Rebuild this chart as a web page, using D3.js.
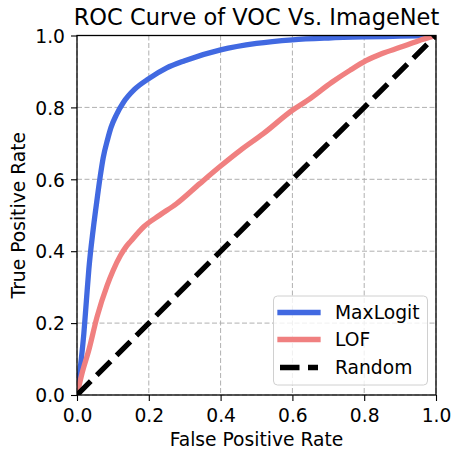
<!DOCTYPE html>
<html>
<head>
<meta charset="utf-8">
<script src="https://cdn.jsdelivr.net/npm/d3@7"></script>
<style>
  body { margin: 0; background: #fff; }
  text { font-family: "DejaVu Sans", sans-serif; }
</style>
</head>
<body>
<svg width="451" height="449"></svg>
<script>
// ROC points: [fpr, tpr]
const maxLogit = [[0,0],[0.006,0.05],[0.012,0.1],[0.019,0.17],[0.026,0.26],[0.033,0.35],[0.045,0.46],
  [0.056,0.545],[0.065,0.61],[0.073,0.66],[0.085,0.71],[0.095,0.745],[0.11,0.78],[0.13,0.815],[0.16,0.85],
  [0.2,0.88],[0.25,0.91],[0.3,0.93],[0.4,0.96],[0.5,0.978],[0.6,0.988],[0.7,0.993],[0.8,0.996],[0.9,0.998],[1,1]];
const lof = [[0,0],[0.014,0.06],[0.033,0.125],[0.056,0.218],[0.084,0.305],[0.1,0.345],[0.121,0.388],
  [0.135,0.41],[0.15,0.428],[0.186,0.468],[0.23,0.5],[0.277,0.532],[0.342,0.588],[0.4,0.637],[0.454,0.68],
  [0.519,0.727],[0.6,0.792],[0.64,0.818],[0.71,0.87],[0.76,0.903],[0.805,0.93],[0.85,0.95],[0.9,0.967],
  [0.95,0.985],[1,1]];
const random = [[0,0],[1,1]];
const ticks = [0, 0.2, 0.4, 0.6, 0.8, 1.0];
const seriesNames = ["MaxLogit", "LOF", "Random"];
const colors = ["#4169e1", "#f08080", "#000000"];

var svg = d3.select("svg");
const pLeft = 77, pRight = 436, pTop = 35.5, pBottom = 395;

const x = d3.scaleLinear().domain([0, 1]).range([pLeft, pRight]);
const y = d3.scaleLinear().domain([0, 1]).range([pBottom, pTop]);

svg.append("defs").append("clipPath").attr("id", "clip")
	.append("rect")
	.attr("x", pLeft).attr("y", pTop)
	.attr("width", pRight - pLeft).attr("height", pBottom - pTop);

// grid
const grid = svg.append("g")
	.attr("stroke", "#b0b0b0")
	.attr("stroke-width", 1)
	.attr("stroke-dasharray", "5,2.5");
grid.selectAll(".gx").data(ticks).join("line")
	.attr("x1", d => x(d)).attr("x2", d => x(d))
	.attr("y1", pTop).attr("y2", pBottom);
grid.selectAll(".gy").data(ticks).join("line")
	.attr("y1", d => y(d)).attr("y2", d => y(d))
	.attr("x1", pLeft).attr("x2", pRight);

// curves
const line = d3.line().curve(d3.curveMonotoneX).x(d => x(d[0])).y(d => y(d[1]));
const curves = svg.append("g").attr("clip-path", "url(#clip)").attr("fill", "none");
[maxLogit, lof, random].forEach((data, i) => {
	curves.append("path")
		.datum(data)
		.attr("d", line)
		.attr("stroke", colors[i])
		.attr("stroke-width", 5.3)
		.attr("stroke-linejoin", "round")
		.attr("stroke-dasharray", i == 2 ? "19.5,8.5" : null);
});

// axes
const xAxis = svg.append("g")
	.attr("transform", `translate(0,${pBottom})`)
	.call(d3.axisBottom(x).tickValues(ticks).tickFormat(d3.format(".1f")).tickSize(6).tickPadding(6));
const yAxis = svg.append("g")
	.attr("transform", `translate(${pLeft},0)`)
	.call(d3.axisLeft(y).tickValues(ticks).tickFormat(d3.format(".1f")).tickSize(6).tickPadding(6));
[xAxis, yAxis].forEach(a => {
	a.select(".domain").remove();
	a.selectAll("line").attr("stroke", "#000").attr("stroke-width", 1.1);
	a.selectAll("text").attr("font-size", 18.7).attr("fill", "#000")
		.attr("font-family", "DejaVu Sans");
});
xAxis.selectAll("text").attr("y", 14).attr("dy", "0.71em");
yAxis.selectAll("text").attr("dy", "0.36em");

// frame
svg.append("rect")
	.attr("x", pLeft).attr("y", pTop)
	.attr("width", pRight - pLeft).attr("height", pBottom - pTop)
	.attr("fill", "none").attr("stroke", "#000").attr("stroke-width", 1.3);

// labels
svg.append("text")
	.attr("x", (pLeft + pRight) / 2).attr("y", 25)
	.attr("text-anchor", "middle").attr("font-size", 22.5)
	.text("ROC Curve of VOC Vs. ImageNet");
svg.append("text")
	.attr("x", (pLeft + pRight) / 2).attr("y", 446)
	.attr("text-anchor", "middle").attr("font-size", 18.7)
	.text("False Positive Rate");
svg.append("text")
	.attr("transform", `translate(25,${(pTop + pBottom) / 2}) rotate(-90)`)
	.attr("text-anchor", "middle").attr("font-size", 18.7)
	.text("True Positive Rate");

// legend
const legend = svg.append("g");
legend.append("rect")
	.attr("x", 273.5).attr("y", 296)
	.attr("width", 154).attr("height", 89)
	.attr("rx", 4)
	.attr("fill", "#fff").attr("fill-opacity", 0.8)
	.attr("stroke", "#d0d0d0").attr("stroke-width", 1);
const rowY = [312.5, 339.5, 367.5];
seriesNames.forEach((name, i) => {
	legend.append("line")
		.attr("x1", 280).attr("x2", 318)
		.attr("y1", rowY[i]).attr("y2", rowY[i])
		.attr("stroke", colors[i]).attr("stroke-width", 5.3)
		.attr("stroke-linecap", i == 2 ? "butt" : "square")
		.attr("stroke-dasharray", i == 2 ? "19.5,8.5" : null);
	legend.append("text")
		.attr("x", 335).attr("y", rowY[i]).attr("dy", "0.36em")
		.attr("font-size", 18.7)
		.text(name);
});
</script>
</body>
</html>
